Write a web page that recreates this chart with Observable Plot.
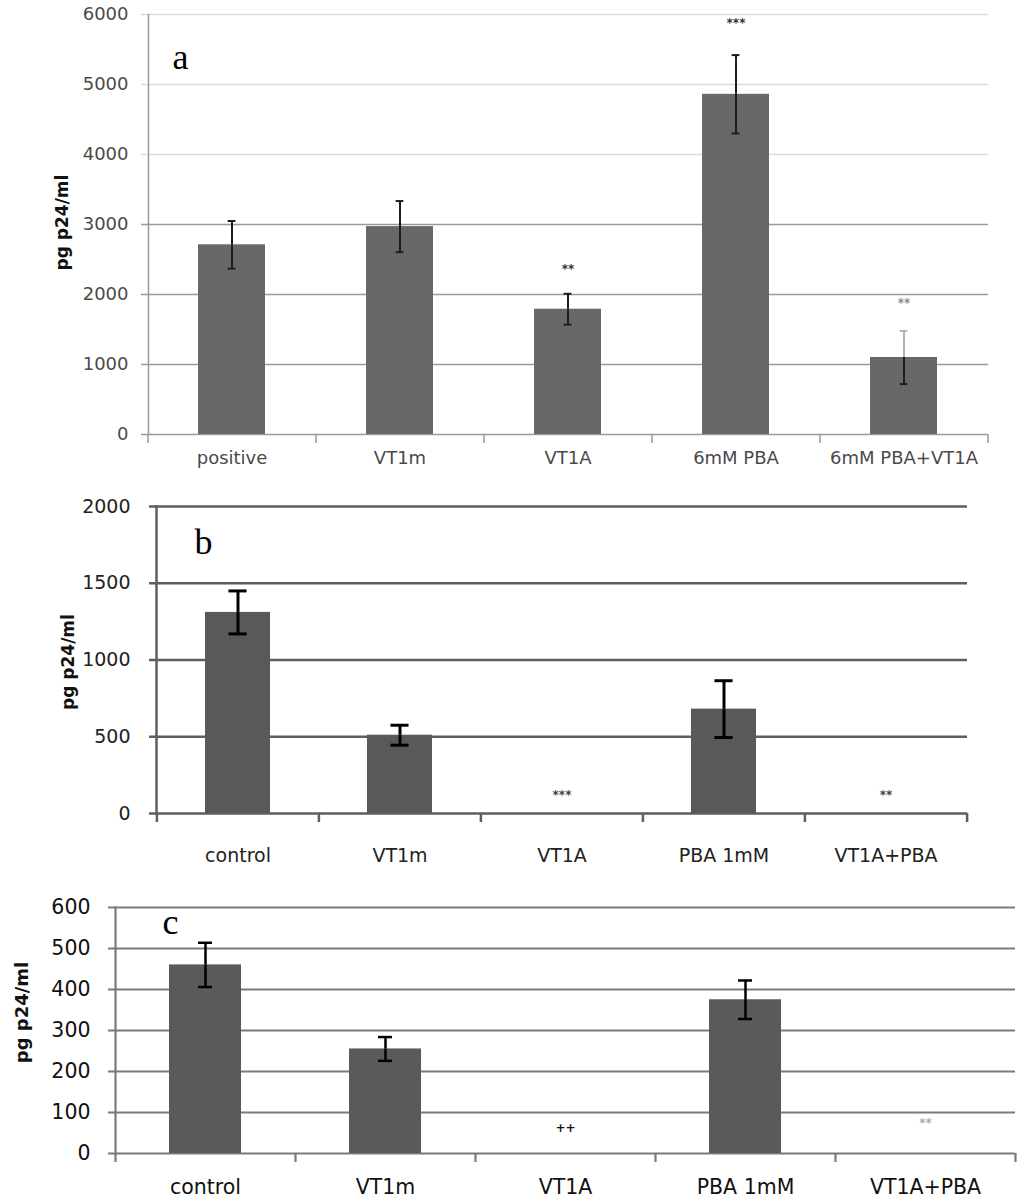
<!DOCTYPE html>
<html><head><meta charset="utf-8">
<script src="https://cdn.jsdelivr.net/npm/d3@7"></script>
<script src="https://cdn.jsdelivr.net/npm/@observablehq/plot@0.6"></script>
<style>body{margin:0;background:#fff} #charts svg{display:block}</style>
</head><body><div id="charts"></div>
<script>
// Panel a
const catsA = ["positive", "VT1m", "VT1A", "6mM PBA", "6mM PBA+VT1A"];
const valsA = [2710, 2970, 1790, 4860, 1100];
const errA = [340, 365, 220, 560, 380];
const starsA = ["", "", "**", "***", "**"];
const starYA = [null, null, 2360, 5870, 1870];
const ticksA = [0, 1000, 2000, 3000, 4000, 5000, 6000];

// Panel b
const catsB = ["control", "VT1m", "VT1A", "PBA 1mM", "VT1A+PBA"];
const valsB = [1310, 510, 0, 680, 0];
const errB = [140, 65, 0, 185, 0];
const starsB = ["", "", "***", "", "**"];
const starYB = [null, null, 117, null, 117];
const ticksB = [0, 500, 1000, 1500, 2000];

// Panel c
const catsC = ["control", "VT1m", "VT1A", "PBA 1mM", "VT1A+PBA"];
const valsC = [460, 255, 0, 375, 0];
const errC = [54, 29, 0, 47, 0];
const starsC = ["", "", "++", "", "**"];
const starYC = [null, null, 61, null, 73];
const ticksC = [0, 100, 200, 300, 400, 500, 600];

const yLabel = "pg p24/ml";
const W = 1024;

function panel(cfg) {
  const rows = cfg.cats.map((c, i) => ({
    cat: c, val: cfg.vals[i], lo: cfg.vals[i] - cfg.errs[i], hi: cfg.vals[i] + cfg.errs[i],
    err: cfg.errs[i], star: cfg.stars[i], sy: cfg.starY[i]
  }));
  const step = (W - cfg.ml - cfg.mr) / cfg.cats.length;
  const bw = step * 0.4;
  const capInset = (bw - cfg.cap) / 2;
  const last = cfg.cats[cfg.cats.length - 1];
  const withErr = rows.filter(d => d.err > 0);
  return Plot.plot({
    width: W, height: cfg.h,
    marginLeft: cfg.ml, marginRight: cfg.mr, marginTop: cfg.mt, marginBottom: cfg.mb,
    x: {type: "band", domain: cfg.cats, paddingInner: 0.6, paddingOuter: 0.3},
    y: {domain: [cfg.ticks[0], cfg.ticks[cfg.ticks.length - 1]]},
    style: {fontFamily: "DejaVu Sans", fontSize: cfg.fs + "px", color: cfg.textColor, background: "#fff"},
    marks: [
      Plot.ruleY(cfg.ticks, {y: d => d, stroke: cfg.gridStroke, strokeWidth: cfg.gw, insetLeft: -7}),
      Plot.ruleX(rows, {x: "cat", dx: -step / 2, y1: 0, y2: 0, insetBottom: -9, stroke: cfg.axisStroke, strokeWidth: cfg.gw}),
      Plot.ruleX([last], {x: d => d, dx: step / 2, y1: 0, y2: 0, insetBottom: -9, stroke: cfg.axisStroke, strokeWidth: cfg.gw}),
      Plot.frame({anchor: "left", stroke: cfg.axisStroke, strokeWidth: cfg.gw}),
      Plot.barY(rows, {x: "cat", y: "val", fill: cfg.barFill}),
      Plot.ruleX(withErr, {x: "cat", y1: "lo", y2: "val", stroke: cfg.errStroke, strokeWidth: cfg.ew}),
      Plot.ruleX(withErr, {x: "cat", y1: "val", y2: "hi", stroke: cfg.errUpper || cfg.errStroke, strokeWidth: cfg.ew}),
      Plot.tickY(withErr, {x: "cat", y: "hi", insetLeft: capInset, insetRight: capInset, stroke: cfg.errUpper || cfg.errStroke, strokeWidth: cfg.ew}),
      Plot.tickY(withErr, {x: "cat", y: "lo", insetLeft: capInset, insetRight: capInset, stroke: cfg.errStroke, strokeWidth: cfg.ew}),
      Plot.text(rows.filter(d => d.star), {x: "cat", y: "sy", text: "star", fontSize: 12, fill: cfg.starFill, fontWeight: "bold"}),
      Plot.axisY({ticks: cfg.ticks, tickSize: 0, tickPadding: cfg.typ, label: null, tickFormat: d => String(d)}),
      Plot.axisX({tickSize: 0, tickPadding: cfg.txp, label: null}),
      Plot.text([yLabel], {frameAnchor: "left", text: d => d, rotate: -90, dx: cfg.ylx, dy: cfg.yly,
        fontWeight: "bold", fontSize: cfg.ylfs, fill: "#111", textAnchor: "middle", lineAnchor: "middle"}),
      Plot.text([cfg.letter], {frameAnchor: "top-left", text: d => d, dx: cfg.lx, dy: cfg.ly,
        fontFamily: "Liberation Serif", fontSize: 36, fill: "#000", textAnchor: "start", lineAnchor: "bottom"})
    ]
  });
}

const root = document.getElementById("charts");
root.append(panel({
  cats: catsA, vals: valsA, errs: errA, stars: starsA, starY: starYA, ticks: ticksA, letter: "a",
  h: 480, ml: 148, mr: 36, mt: 14, mb: 46, fs: 18, textColor: "#4a4a4a",
  gridStroke: d => d > 3000 ? "#dcdcdc" : "#9a9a9a", axisStroke: "#9a9a9a", gw: 1.5,
  barFill: "#686868", errStroke: "#1e1e1e", errUpper: d => d.cat === "6mM PBA+VT1A" ? "#b5b5b5" : "#1e1e1e",
  ew: 2, cap: 8, starFill: d => d.cat === "6mM PBA+VT1A" ? "#888" : "#333",
  typ: 20, txp: 17, ylx: -86, yly: -2, ylfs: 17, lx: 24, ly: 54
}));
root.append(panel({
  cats: catsB, vals: valsB, errs: errB, stars: starsB, starY: starYB, ticks: ticksB, letter: "b",
  h: 390, ml: 156, mr: 57, mt: 26, mb: 57, fs: 19, textColor: "#222",
  gridStroke: "#5e5e5e", axisStroke: "#5e5e5e", gw: 2.5,
  barFill: "#595959", errStroke: "#000",
  ew: 3, cap: 18, starFill: "#444",
  typ: 26, txp: 35, ylx: -88, yly: 2, ylfs: 17, lx: 38, ly: 47
}));
root.append(panel({
  cats: catsC, vals: valsC, errs: errC, stars: starsC, starY: starYC, ticks: ticksC, letter: "c",
  h: 332, ml: 115, mr: 9, mt: 37, mb: 49, fs: 20.5, textColor: "#111",
  gridStroke: "#7a7a7a", axisStroke: "#7a7a7a", gw: 2.2,
  barFill: "#5a5a5a", errStroke: "#000",
  ew: 2.5, cap: 14, starFill: d => d.cat === "VT1A" ? "#111" : "#aaa",
  typ: 25, txp: 26, ylx: -93, yly: -18, ylfs: 18, lx: 47, ly: 26
}));
</script>
</body></html>
